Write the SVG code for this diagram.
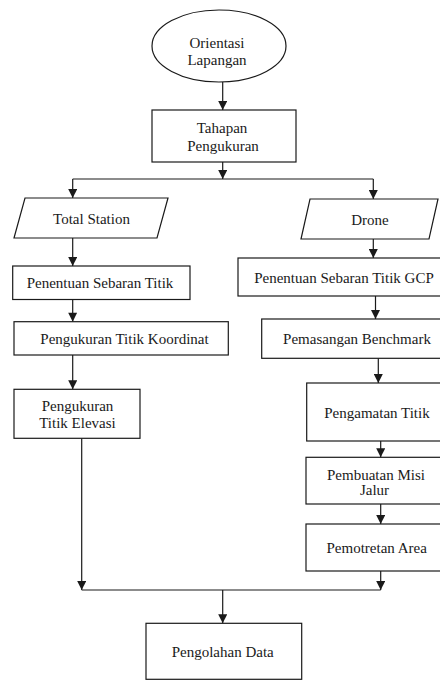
<svg xmlns="http://www.w3.org/2000/svg" width="440" height="680" viewBox="0 0 440 680">
<style>
.shape{fill:#fff;stroke:#1a1a1a;stroke-width:1.2}
.lbl{font-family:'Liberation Serif','Times New Roman','DejaVu Serif',serif;font-size:15px;fill:#1a1a1a;text-anchor:middle}
.conn{fill:none;stroke:#1a1a1a;stroke-width:1.2}
</style>
<defs>
<marker id="arr" viewBox="0 0 10 10" markerWidth="10" markerHeight="9" refX="10" refY="5" orient="auto" markerUnits="userSpaceOnUse">
<path d="M0,0 L10,5 L0,10 z" fill="#1a1a1a"/>
</marker>
</defs>
<rect width="440" height="680" fill="#fff"/>
<g id="connectors">
<path class="conn" d="M222.7,82 V110" marker-end="url(#arr)"/>
<path class="conn" d="M222.7,162 V179" marker-end="url(#arr)"/>
<path class="conn" d="M72.7,179 H373.3"/>
<path class="conn" d="M72.7,179 V198" marker-end="url(#arr)"/>
<path class="conn" d="M373.3,179 V199" marker-end="url(#arr)"/>
<path class="conn" d="M72.7,238 V266" marker-end="url(#arr)"/>
<path class="conn" d="M72.7,299.5 V321.7" marker-end="url(#arr)"/>
<path class="conn" d="M72.7,355 V389.3" marker-end="url(#arr)"/>
<path class="conn" d="M373.3,239 V258" marker-end="url(#arr)"/>
<path class="conn" d="M375.5,296 V319" marker-end="url(#arr)"/>
<path class="conn" d="M378.3,358.3 V383" marker-end="url(#arr)"/>
<path class="conn" d="M380.7,441 V457.3" marker-end="url(#arr)"/>
<path class="conn" d="M380.7,504 V524" marker-end="url(#arr)"/>
<path class="conn" d="M380.7,571 V590" marker-end="url(#arr)"/>
<path class="conn" d="M81.7,438.3 V590" marker-end="url(#arr)"/>
<path class="conn" d="M81.7,590 H380.7"/>
<path class="conn" d="M222.7,590 V623.3" marker-end="url(#arr)"/>
</g>
<g id="orientasi">
<ellipse class="shape" cx="219" cy="46" rx="67" ry="36"/>
<text class="lbl" x="217" y="48">Orientasi</text>
<text class="lbl" x="217" y="65">Lapangan</text>
</g>
<g id="tahapan">
<rect class="shape" x="152" y="110" width="144" height="52"/>
<text class="lbl" x="222" y="133">Tahapan</text>
<text class="lbl" x="223" y="151">Pengukuran</text>
</g>
<g id="total-station">
<polygon class="shape" points="25,198 168,198 157,238 14,238"/>
<text class="lbl" x="91.5" y="224.3">Total Station</text>
</g>
<g id="penentuan-titik">
<rect class="shape" x="12.7" y="266" width="177.3" height="33.5"/>
<text class="lbl" x="100" y="287.7">Penentuan Sebaran Titik</text>
</g>
<g id="koordinat">
<rect class="shape" x="14" y="321.7" width="214.3" height="33.3"/>
<text class="lbl" x="124.5" y="344.3">Pengukuran Titik Koordinat</text>
</g>
<g id="elevasi">
<rect class="shape" x="14" y="389.3" width="126" height="49"/>
<text class="lbl" x="77.5" y="410.7">Pengukuran</text>
<text class="lbl" x="77.5" y="428.3">Titik Elevasi</text>
</g>
<g id="drone">
<polygon class="shape" points="310,199 438,199 429,239 301,239"/>
<text class="lbl" x="370" y="225">Drone</text>
</g>
<g id="penentuan-gcp">
<rect class="shape" x="238" y="258" width="210" height="38"/>
<text class="lbl" x="344" y="283.3">Penentuan Sebaran Titik GCP</text>
</g>
<g id="benchmark">
<rect class="shape" x="261.7" y="319" width="190" height="39.3"/>
<text class="lbl" x="357" y="344">Pemasangan Benchmark</text>
</g>
<g id="pengamatan">
<rect class="shape" x="306.7" y="383" width="140" height="58"/>
<text class="lbl" x="377" y="418.3">Pengamatan Titik</text>
</g>
<g id="misi">
<rect class="shape" x="306" y="457.3" width="141" height="46.7"/>
<text class="lbl" x="376" y="480">Pembuatan Misi</text>
<text class="lbl" x="374.5" y="495">Jalur</text>
</g>
<g id="pemotretan">
<rect class="shape" x="306" y="524" width="141" height="47"/>
<text class="lbl" x="376.7" y="553.3">Pemotretan Area</text>
</g>
<g id="pengolahan">
<rect class="shape" x="146" y="623.3" width="155.7" height="56"/>
<text class="lbl" x="222.7" y="656.7">Pengolahan Data</text>
</g>
</svg>
